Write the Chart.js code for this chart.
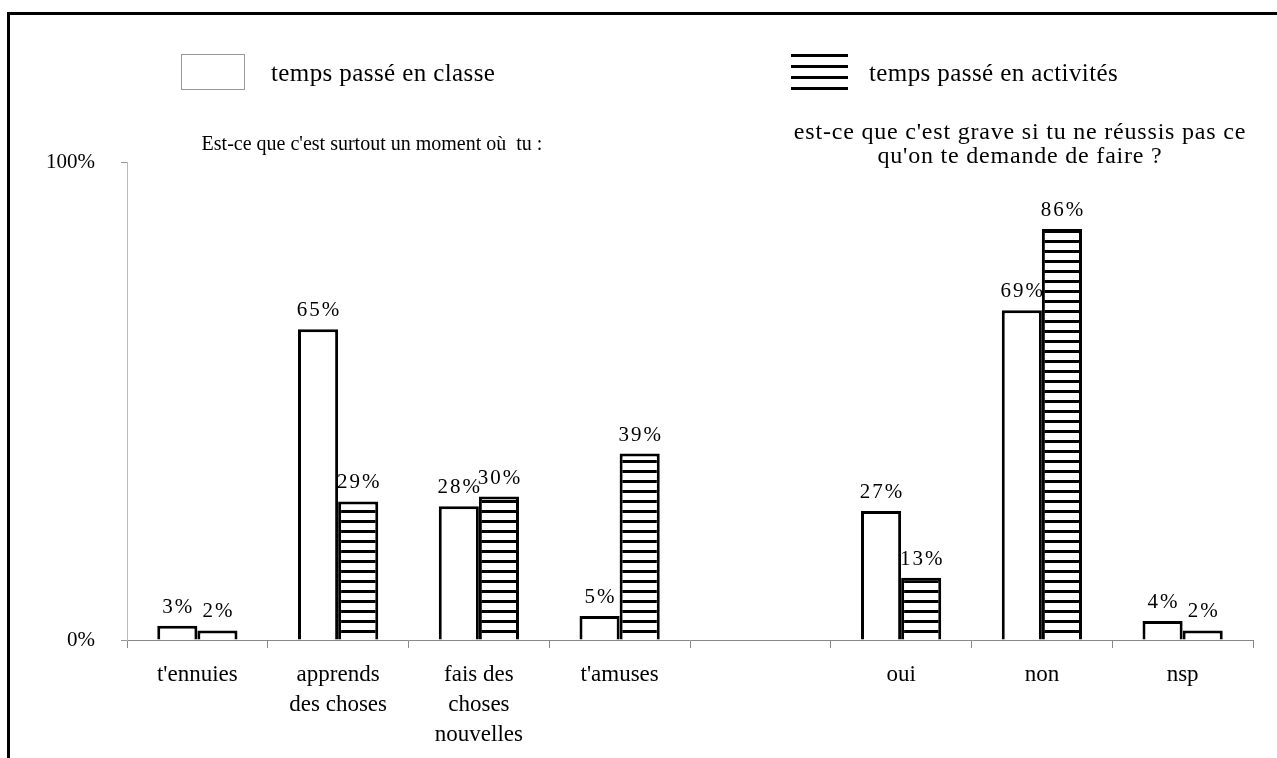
<!DOCTYPE html>
<html lang="fr">
<head>
<meta charset="UTF-8">
<title>Temps passé en classe / en activités</title>
<script src="https://cdn.jsdelivr.net/npm/chart.js"></script>
<style>
  body { margin: 0; background: #fff; }
  #wrap { width: 1277px; height: 758px; }
</style>
</head>
<body>
<div id="wrap"><canvas id="chart" width="1277" height="758"></canvas></div>
<script>
// data
const categories = ["t'ennuies", ["apprends", "des choses"], ["fais des", "choses", "nouvelles"], "t'amuses", "", "oui", "non", "nsp"];
const classeValues = [3, 65, 28, 5, null, 27, 69, 4];
const activitesValues = [2, 29, 30, 39, null, 13, 86, 2];
const yTicks = [0, 100];
const seriesNames = ["temps passé en classe", "temps passé en activités"];
const question1 = "Est-ce que c'est surtout un moment où  tu :";
const question2 = ["est-ce que c'est grave si tu ne réussis pas ce", "qu'on te demande de faire ?"];

const SERIF = '"Liberation Serif", "Times New Roman", serif';

// horizontal stripes for the second series
function stripes() {
    const c = document.createElement('canvas');
    c.width = 8; c.height = 10;
    const g = c.getContext('2d');
    g.fillStyle = '#fff';
    g.fillRect(0, 0, 8, 10);
    g.fillStyle = '#000';
    g.fillRect(0, 0, 8, 3);
    return g.createPattern(c, 'repeat');
}

const valueLabels = {
    id: 'valueLabels',
    afterDatasetsDraw(chart) {
        const ctx = chart.ctx;
        ctx.save();
        ctx.font = '21px ' + SERIF;
        ctx.letterSpacing = '2px';
        ctx.fillStyle = '#000';
        ctx.textAlign = 'center';
        ctx.textBaseline = 'alphabetic';
        chart.data.datasets.forEach((ds, i) => {
            chart.getDatasetMeta(i).data.forEach((bar, j) => {
                if (ds.data[j] == null) return;
                ctx.fillText(ds.data[j] + '%', bar.x + 1, bar.y - 13);
            });
        });
        ctx.restore();
    }
};

const decorations = {
    id: 'decorations',
    afterDraw(chart) {
        const ctx = chart.ctx;
        ctx.save();
        // frame
        ctx.fillStyle = '#000';
        ctx.fillRect(7, 12, 1270, 3);
        ctx.fillRect(7, 12, 3, 746);

        // legend
        ctx.strokeStyle = '#999';
        ctx.lineWidth = 1;
        ctx.strokeRect(181.5, 54.5, 63, 35);
        ctx.fillStyle = '#000';
        [54, 65, 76, 87].forEach(y => ctx.fillRect(791, y, 57, 3));

        ctx.font = '25px ' + SERIF;
        ctx.letterSpacing = '0.4px';
        ctx.textAlign = 'left';
        ctx.textBaseline = 'middle';
        ctx.fillText(seriesNames[0], 271, 74);
        ctx.fillText(seriesNames[1], 869, 74);

        // questions
        ctx.textAlign = 'center';
        ctx.font = '20px ' + SERIF;
        ctx.letterSpacing = '0px';
        ctx.fillText(question1, 372, 145);
        ctx.font = '24px ' + SERIF;
        ctx.letterSpacing = '0.8px';
        ctx.fillText(question2[0], 1020, 133);
        ctx.fillText(question2[1], 1020, 157);
        ctx.restore();
    }
};

new Chart(document.getElementById('chart'), {
    type: 'bar',
    data: {
        labels: categories,
        datasets: [
            {
                label: seriesNames[0],
                data: classeValues,
                backgroundColor: '#fff',
                borderColor: '#000',
                borderWidth: 3
            },
            {
                label: seriesNames[1],
                data: activitesValues,
                backgroundColor: stripes(),
                borderColor: '#000',
                borderWidth: 3
            }
        ]
    },
    options: {
        responsive: false,
        animation: false,
        events: [],
        layout: { padding: { top: 162, right: 24, left: 0, bottom: 0 } },
        datasets: { bar: { categoryPercentage: 0.57, barPercentage: 1.0 } },
        plugins: {
            legend: { display: false },
            tooltip: { enabled: false }
        },
        scales: {
            x: {
                afterFit: s => { s.height = 118; },
                grid: { drawOnChartArea: false, tickLength: 8, color: '#888', offset: true },
                border: { color: '#888', width: 1 },
                ticks: {
                    autoSkip: false, maxRotation: 0, padding: 12, color: '#000',
                    font: { family: SERIF, size: 23, lineHeight: 1.3 }
                }
            },
            y: {
                min: 0, max: 100,
                afterFit: s => { s.width = 127; },
                afterBuildTicks: s => { s.ticks = yTicks.map(v => ({ value: v })); },
                grid: { drawOnChartArea: false, tickLength: 6, color: '#999' },
                border: { color: '#bbb', width: 1 },
                ticks: {
                    padding: 26, color: '#000',
                    font: { family: SERIF, size: 21 },
                    callback: v => v + '%'
                }
            }
        }
    },
    plugins: [valueLabels, decorations]
});
</script>
</body>
</html>
